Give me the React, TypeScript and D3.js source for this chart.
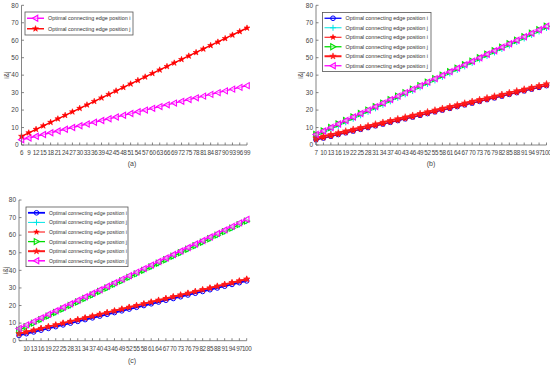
import React from "react";
import * as d3 from "d3";

// ---------- data ----------
const xA = [6, 9, 12, 15, 18, 21, 24, 27, 30, 33, 36, 39, 42, 45, 48, 51, 54, 57, 60, 63, 66, 69, 72, 75, 78, 81, 84, 87, 90, 93, 96, 99];
const iA = [3, 4, 5, 6, 7, 8, 9, 10, 11, 12, 13, 14, 15, 16, 17, 18, 19, 20, 21, 22, 23, 24, 25, 26, 27, 28, 29, 30, 31, 32, 33, 34];
const jA = [5, 7, 9, 11, 13, 15, 17, 19, 21, 23, 25, 27, 29, 31, 33, 35, 37, 39, 41, 43, 45, 47, 49, 51, 53, 55, 57, 59, 61, 63, 65, 67];

const xB = [7, 10, 13, 16, 19, 22, 25, 28, 31, 34, 37, 40, 43, 46, 49, 52, 55, 58, 61, 64, 67, 70, 73, 76, 79, 82, 85, 88, 91, 94, 97, 100];
const iB1 = [3, 4, 5, 6, 7, 8, 9, 10, 11, 12, 13, 14, 15, 16, 17, 18, 19, 20, 21, 22, 23, 24, 25, 26, 27, 28, 29, 30, 31, 32, 33, 34];
const jB1 = [5, 7, 9, 11, 13, 15, 17, 19, 21, 23, 25, 27, 29, 31, 33, 35, 37, 39, 41, 43, 45, 47, 49, 51, 53, 55, 57, 59, 61, 63, 65, 67];
const iB2 = [3, 4, 5, 6, 7, 8, 9, 10, 11, 12, 13, 14, 15, 16, 17, 18, 19, 20, 21, 22, 23, 24, 25, 26, 27, 28, 29, 30, 31, 32, 33, 34];
const jB2 = [6, 8, 10, 12, 14, 16, 18, 20, 22, 24, 26, 28, 30, 32, 34, 36, 38, 40, 42, 44, 46, 48, 50, 52, 54, 56, 58, 60, 62, 64, 66, 68];
const iB3 = [4, 5, 6, 7, 8, 9, 10, 11, 12, 13, 14, 15, 16, 17, 18, 19, 20, 21, 22, 23, 24, 25, 26, 27, 28, 29, 30, 31, 32, 33, 34, 35];
const jB3 = [6, 8, 10, 12, 14, 16, 18, 20, 22, 24, 26, 28, 30, 32, 34, 36, 38, 40, 42, 44, 46, 48, 50, 52, 54, 56, 58, 60, 62, 64, 66, 68];

const xC = [7, 10, 13, 16, 19, 22, 25, 28, 31, 34, 37, 40, 43, 46, 49, 52, 55, 58, 61, 64, 67, 70, 73, 76, 79, 82, 85, 88, 91, 94, 97, 100];
const iC1 = [3, 4, 5, 6, 7, 8, 9, 10, 11, 12, 13, 14, 15, 16, 17, 18, 19, 20, 21, 22, 23, 24, 25, 26, 27, 28, 29, 30, 31, 32, 33, 34];
const jC1 = [6, 8, 10, 12, 14, 16, 18, 20, 22, 24, 26, 28, 30, 32, 34, 36, 38, 40, 42, 44, 46, 48, 50, 52, 54, 56, 58, 60, 62, 64, 66, 68];
const iC2 = [4, 5, 6, 7, 8, 9, 10, 11, 12, 13, 14, 15, 16, 17, 18, 19, 20, 21, 22, 23, 24, 25, 26, 27, 28, 29, 30, 31, 32, 33, 34, 35];
const jC2 = [6, 8, 10, 12, 14, 16, 18, 20, 22, 24, 26, 28, 30, 32, 34, 36, 38, 40, 42, 44, 46, 48, 50, 52, 54, 56, 58, 60, 62, 64, 66, 68];
const iC3 = [4, 5, 6, 7, 8, 9, 10, 11, 12, 13, 14, 15, 16, 17, 18, 19, 20, 21, 22, 23, 24, 25, 26, 27, 28, 29, 30, 31, 32, 33, 34, 35];
const jC3 = [7, 9, 11, 13, 15, 17, 19, 21, 23, 25, 27, 29, 31, 33, 35, 37, 39, 41, 43, 45, 47, 49, 51, 53, 55, 57, 59, 61, 63, 65, 67, 69];

const yTicks = [0, 10, 20, 30, 40, 50, 60, 70, 80];
const xTicksA = xA;
const xTicksB = xB;
const xTicksC = [10, 13, 16, 19, 22, 25, 28, 31, 34, 37, 40, 43, 46, 49, 52, 55, 58, 61, 64, 67, 70, 73, 76, 79, 82, 85, 88, 91, 94, 97, 100];

const labelI = "Optimal connecting edge position i";
const labelJ = "Optimal connecting edge position j";

type Marker = "circle" | "plus" | "star" | "triR" | "triL";
type Series = { y: number[]; color: string; marker: Marker; label: string; lw: number; ms: number };

const seriesA: Series[] = [
  { y: iA, color: "#ff00ff", marker: "triL", label: labelI, lw: 1.4, ms: 6 },
  { y: jA, color: "#ff0000", marker: "star", label: labelJ, lw: 1.4, ms: 6 },
];
const seriesB: Series[] = [
  { y: iB1, color: "#0000ff", marker: "circle", label: labelI, lw: 1.3, ms: 5.5 },
  { y: jB1, color: "#00e5e5", marker: "plus", label: labelJ, lw: 1.0, ms: 6 },
  { y: iB2, color: "#ff0000", marker: "star", label: labelI, lw: 1.0, ms: 5.5 },
  { y: jB2, color: "#00dd00", marker: "triR", label: labelJ, lw: 1.3, ms: 6 },
  { y: iB3, color: "#ff1a1a", marker: "star", label: labelI, lw: 2.0, ms: 6.5 },
  { y: jB3, color: "#ff00ff", marker: "triL", label: labelJ, lw: 1.3, ms: 6 },
];
const seriesC: Series[] = [
  { y: iC1, color: "#0000ff", marker: "circle", label: labelI, lw: 1.8, ms: 5.5 },
  { y: jC1, color: "#00e5e5", marker: "plus", label: labelJ, lw: 1.0, ms: 6 },
  { y: iC2, color: "#ff0000", marker: "star", label: labelI, lw: 1.0, ms: 5.5 },
  { y: jC2, color: "#00dd00", marker: "triR", label: labelJ, lw: 1.3, ms: 6 },
  { y: iC3, color: "#ff1a1a", marker: "star", label: labelI, lw: 2.0, ms: 6.5 },
  { y: jC3, color: "#ff00ff", marker: "triL", label: labelJ, lw: 1.5, ms: 6 },
];

// ---------- marker ----------
function MarkerShape({ m, x, y, color, s }: { m: Marker; x: number; y: number; color: string; s: number }) {
  const r = s / 2;
  if (m === "circle") return <circle cx={x} cy={y} r={r * 0.85} fill="none" stroke={color} strokeWidth={1} />;
  if (m === "plus")
    return (
      <path d={`M${x - r},${y}H${x + r}M${x},${y - r}V${y + r}`} stroke={color} strokeWidth={1} fill="none" />
    );
  if (m === "star") {
    const p = d3.symbol().type(d3.symbolStar).size(s * s * 0.3)();
    return <path d={p || ""} transform={`translate(${x},${y})`} fill={color} stroke={color} strokeWidth={0.6} />;
  }
  const dir = m === "triL" ? -1 : 1;
  const d = `M${x + dir * r},${y}L${x - dir * r * 0.75},${y - r}L${x - dir * r * 0.75},${y + r}Z`;
  return <path d={d} fill="rgba(255,255,255,0.55)" stroke={color} strokeWidth={1.1} />;
}

// ---------- panel ----------
type PanelProps = {
  left: number; right: number; top: number; bottom: number;
  xs: number[]; xDomain: [number, number]; xTicks: number[];
  series: Series[];
  legend: { x: number; y: number; w: number; rowH: number; fs: number };
  caption: string; capX: number; capY: number; ylabX: number;
};

function Panel(p: PanelProps) {
  const x = d3.scaleLinear().domain(p.xDomain).range([p.left, p.right]);
  const y = d3.scaleLinear().domain([0, 80]).range([p.bottom, p.top]);
  const axisColor = "#666";
  const txt = "#444";
  return (
    <g fontFamily="Liberation Sans, Arial, sans-serif">
      {p.series.map((s, si) => {
        const line = d3.line<number>().x((_, i) => x(p.xs[i])).y((v) => y(v));
        return (
          <g key={si}>
            <path d={line(s.y) || ""} fill="none" stroke={s.color} strokeWidth={s.lw} />
            {s.y.map((v, i) => (
              <MarkerShape key={i} m={s.marker} x={x(p.xs[i])} y={y(v)} color={s.color} s={s.ms} />
            ))}
          </g>
        );
      })}
      <line x1={p.left} x2={p.left} y1={p.top} y2={p.bottom} stroke={axisColor} strokeWidth={0.8} />
      <line x1={p.left} x2={p.right} y1={p.bottom} y2={p.bottom} stroke={axisColor} strokeWidth={0.8} />
      {yTicks.map((t) => (
        <g key={t}>
          <line x1={p.left} x2={p.left + 2.5} y1={y(t)} y2={y(t)} stroke={axisColor} strokeWidth={0.8} />
          <text x={p.left - 3} y={y(t) + 2.3} fontSize={6.5} textAnchor="end" fill={txt}>{t}</text>
        </g>
      ))}
      {p.xTicks.map((t) => (
        <g key={t}>
          <line x1={x(t)} x2={x(t)} y1={p.bottom} y2={p.bottom - 2.5} stroke={axisColor} strokeWidth={0.8} />
          <text x={x(t)} y={p.bottom + 10} fontSize={6.3} textAnchor="middle" fill={txt} letterSpacing={-0.3}>{t}</text>
        </g>
      ))}
      <text
        transform={`translate(${p.ylabX},${(p.top + p.bottom) / 2}) rotate(-90)`}
        fontSize={6.5} textAnchor="middle" fill={txt}
      >
        i&amp;j
      </text>
      <text x={p.capX} y={p.capY} fontSize={7} textAnchor="middle" fill={txt}>{p.caption}</text>
      <rect
        x={p.legend.x} y={p.legend.y} width={p.legend.w}
        height={p.legend.rowH * p.series.length + 2}
        fill="#fff" stroke="#555" strokeWidth={0.8}
      />
      {p.series.map((s, si) => {
        const cy = p.legend.y + 1 + p.legend.rowH * (si + 0.5);
        const lx0 = p.legend.x + 2;
        const lx1 = p.legend.x + 19;
        return (
          <g key={si}>
            <line x1={lx0} x2={lx1} y1={cy} y2={cy} stroke={s.color} strokeWidth={s.lw} />
            <MarkerShape m={s.marker} x={(lx0 + lx1) / 2} y={cy} color={s.color} s={s.ms} />
            <text x={p.legend.x + 23} y={cy + 2} fontSize={p.legend.fs} fill="#333">{s.label}</text>
          </g>
        );
      })}
    </g>
  );
}

export default function App() {
  return (
    <svg width={550} height={367} style={{ position: "absolute", left: 0, top: 0, background: "#fff" }}>
      <rect width={550} height={367} fill="#fff" />
      <Panel
        left={21.5} right={247} top={5.3} bottom={145}
        xs={xA} xDomain={[6, 99]} xTicks={xTicksA} series={seriesA}
        legend={{ x: 25, y: 12, w: 108, rowH: 10.5, fs: 5.4 }}
        caption="(a)" capX={132} capY={166} ylabX={9}
      />
      <Panel
        left={316} right={546.5} top={5.3} bottom={145}
        xs={xB} xDomain={[7, 100]} xTicks={xTicksB} series={seriesB}
        legend={{ x: 322.5, y: 12.5, w: 108.5, rowH: 9.5, fs: 5.4 }}
        caption="(b)" capX={431} capY={166} ylabX={303}
      />
      <Panel
        left={19} right={246.7} top={200} bottom={340.7}
        xs={xC} xDomain={[7, 100]} xTicks={xTicksC} series={seriesC}
        legend={{ x: 26, y: 207, w: 102, rowH: 9.6, fs: 5.1 }}
        caption="(c)" capX={132} capY={363} ylabX={8}
      />
    </svg>
  );
}
